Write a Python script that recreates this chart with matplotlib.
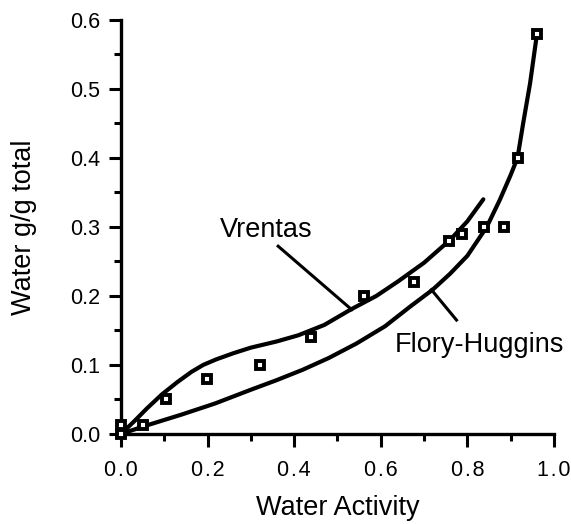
import matplotlib
matplotlib.use("Agg")
import matplotlib.pyplot as plt
from matplotlib.ticker import MultipleLocator, FormatStrFormatter

plt.rcParams['font.family'] = ['Liberation Sans', 'DejaVu Sans']

# Measured sorption data
water_activity = [0.0, 0.0, 0.05, 0.104, 0.198, 0.321, 0.439, 0.561, 0.677,
                  0.758, 0.788, 0.838, 0.885, 0.916, 0.961]
water_content = [0.0, 0.013, 0.013, 0.05, 0.08, 0.10, 0.14, 0.20, 0.22,
                 0.28, 0.29, 0.30, 0.30, 0.40, 0.58]

# Vrentas model curve
vrentas_aw = [0.0, 0.03, 0.06, 0.094, 0.13, 0.163, 0.19, 0.22, 0.26, 0.30, 0.36,
              0.41, 0.47, 0.53, 0.59, 0.64, 0.70, 0.76, 0.80, 0.837]
vrentas_w = [0.0, 0.018, 0.037, 0.057, 0.075, 0.090, 0.100, 0.108, 0.117, 0.125,
             0.134, 0.143, 0.158, 0.180, 0.200, 0.221, 0.248, 0.281, 0.308, 0.340]

# Flory-Huggins model curve
fh_aw = [0.0, 0.063, 0.14, 0.217, 0.30, 0.36, 0.42, 0.48, 0.544, 0.61, 0.667,
         0.72, 0.76, 0.80, 0.845, 0.875, 0.90, 0.916, 0.929, 0.945, 0.961]
fh_w = [0.0, 0.013, 0.028, 0.044, 0.064, 0.078, 0.093, 0.110, 0.131, 0.156,
        0.184, 0.209, 0.232, 0.258, 0.300, 0.339, 0.375, 0.400, 0.450, 0.508, 0.580]

x_ticks = [0.0, 0.2, 0.4, 0.6, 0.8, 1.0]
x_tick_labels = ['0\u200a.\u200a0', '0\u200a.\u200a2', '0\u200a.\u200a4',
                 '0\u200a.\u200a6', '0\u200a.\u200a8', '1\u200a.\u200a0']
y_ticks = [0.0, 0.1, 0.2, 0.3, 0.4, 0.5, 0.6]

fig = plt.figure(figsize=(5.71, 5.24), dpi=100)
ax = fig.add_axes([0.212, 0.172, 0.758, 0.790])

lw = 3.0
ax.plot(vrentas_aw, vrentas_w, color='black', lw=lw, solid_capstyle='round', clip_on=False)
ax.plot(fh_aw, fh_w, color='black', lw=lw, solid_capstyle='round', clip_on=False)
ax.plot(water_activity, water_content, linestyle='none', marker='s', ms=6.3,
        mfc='white', mec='black', mew=2.8, clip_on=False, zorder=5)

# Labels with leader lines
ax.text(0.229, 0.2855, 'Vrentas', fontsize=19.5, ha='left', va='baseline')
ax.plot([0.363, 0.533], [0.272, 0.180], color='black', lw=2.2)
ax.text(0.633, 0.119, 'Flory-Huggins', fontsize=19.5, ha='left', va='baseline')
ax.plot([0.717, 0.775], [0.209, 0.165], color='black', lw=2.2)

ax.set_xlim(0, 1.0)
ax.set_ylim(0, 0.6)
ax.set_xticks(x_ticks)
ax.set_xticklabels(x_tick_labels)
ax.set_yticks(y_ticks)
ax.xaxis.set_minor_locator(MultipleLocator(0.1))
ax.yaxis.set_minor_locator(MultipleLocator(0.05))
ax.yaxis.set_major_formatter(FormatStrFormatter('%.1f'))

for side in ('top', 'right'):
    ax.spines[side].set_visible(False)
for side in ('left', 'bottom'):
    ax.spines[side].set_linewidth(2.4)

ax.tick_params(axis='both', which='major', direction='out', length=9, width=2.2,
               labelsize=15.5)
ax.tick_params(axis='both', which='minor', direction='out', length=5, width=2.2)
ax.tick_params(axis='x', which='major', pad=10)
ax.tick_params(axis='y', which='major', pad=6)

ax.set_xlabel('Water Activity', fontsize=19.5, labelpad=10)
ax.set_ylabel('Water g/g total', fontsize=19.5, labelpad=24)

fig.savefig('out.png', dpi=100)
